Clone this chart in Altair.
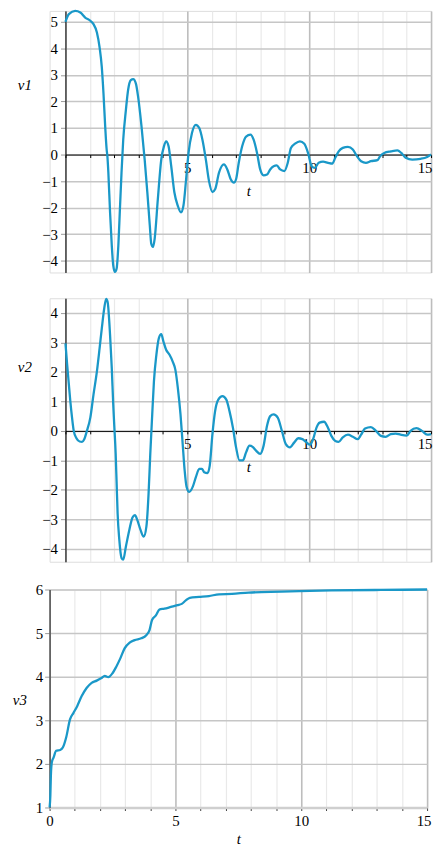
import altair as alt
import pandas as pd

FONT = "Liberation Serif"
LINE = "#1a98c8"

# ---- data ----
T1 = [0, 0.14, 0.4, 0.61, 0.81, 1.02, 1.15, 1.29, 1.4, 1.49,
      1.56, 1.63, 1.69, 1.72, 1.76, 1.83, 1.9, 1.96, 2.03, 2.1,
      2.17, 2.24, 2.3, 2.37, 2.48, 2.57, 2.68, 2.78, 2.89, 2.98,
      3.12, 3.25, 3.36, 3.46, 3.52, 3.59, 3.66, 3.79, 3.93, 4.04,
      4.13, 4.23, 4.34, 4.47, 4.61, 4.74, 4.84, 4.95, 5.05, 5.19,
      5.35, 5.49, 5.62, 5.76, 5.89, 6.03, 6.14, 6.3, 6.5, 6.64,
      6.78, 6.91, 7.0, 7.11, 7.25, 7.41, 7.59, 7.72, 7.86, 7.99,
      8.13, 8.27, 8.4, 8.54, 8.67, 8.81, 8.98, 9.12, 9.25, 9.42,
      9.62, 9.8, 9.96, 10.1, 10.23, 10.39, 10.57, 10.77, 10.95, 11.07,
      11.21, 11.38, 11.59, 11.79, 11.96, 12.13, 12.33, 12.53, 12.8, 12.91,
      13.08, 13.35, 13.62, 13.78, 13.96, 14.23, 14.57, 14.84, 15]
V1 = [5.0, 5.29, 5.41, 5.35, 5.16, 5.04, 4.91, 4.6, 4.04, 3.3,
      2.3, 1.06, 0.19, -0.06, -0.68, -2.18, -3.42, -4.17, -4.42, -4.29,
      -3.42, -1.93, -0.68, 0.56, 1.68, 2.43, 2.8, 2.84, 2.67, 2.18,
      1.06, -0.19, -1.43, -2.67, -3.36, -3.48, -3.17, -1.68, -0.19, 0.31,
      0.5, 0.31, -0.44, -1.43, -1.93, -2.18, -1.93, -0.93, 0.06, 0.81,
      1.12, 1.0, 0.56, -0.19, -1.0, -1.41, -1.31, -0.68, -0.37, -0.56,
      -0.93, -1.06, -0.93, -0.31, 0.31, 0.68, 0.75, 0.56, 0.06, -0.56,
      -0.78, -0.75, -0.56, -0.44, -0.41, -0.56, -0.62, -0.31, 0.25, 0.41,
      0.5, 0.41, 0.04, -0.44, -0.5, -0.31, -0.27, -0.31, -0.34, -0.12,
      0.12, 0.25, 0.29, 0.19, -0.06, -0.25, -0.31, -0.25, -0.21, -0.06,
      0.06, 0.12, 0.16, 0.06, -0.12, -0.19, -0.16, -0.09, 0.0]

T2 = [0, 0.07, 0.14, 0.2, 0.27, 0.34, 0.45, 0.58, 0.68, 0.77,
      0.88, 1.02, 1.15, 1.29, 1.4, 1.49, 1.59, 1.67, 1.73, 1.83,
      1.9, 1.96, 2.0, 2.06, 2.1, 2.14, 2.21, 2.3, 2.37, 2.48,
      2.62, 2.75, 2.85, 2.95, 3.08, 3.21, 3.32, 3.41, 3.48, 3.56,
      3.63, 3.73, 3.83, 3.93, 4.02, 4.13, 4.27, 4.4, 4.51, 4.61,
      4.72, 4.81, 4.89, 4.97, 5.08, 5.22, 5.35, 5.49, 5.6, 5.69,
      5.83, 5.92, 6.03, 6.14, 6.27, 6.44, 6.6, 6.73, 6.87, 7.0,
      7.14, 7.28, 7.41, 7.55, 7.68, 7.82, 7.99, 8.13, 8.27, 8.4,
      8.54, 8.71, 8.88, 9.04, 9.21, 9.39, 9.55, 9.72, 9.89, 10.03,
      10.16, 10.3, 10.43, 10.61, 10.77, 10.91, 11.07, 11.21, 11.38, 11.59,
      11.79, 11.99, 12.13, 12.29, 12.53, 12.74, 12.94, 13.14, 13.35, 13.55,
      13.75, 14.0, 14.16, 14.4, 14.63, 14.84, 15]
V2 = [2.97, 2.24, 1.57, 1.0, 0.45, 0.0, -0.25, -0.36, -0.37, -0.28,
      0.0, 0.45, 1.23, 2.02, 2.8, 3.47, 4.15, 4.48, 4.37, 3.25,
      2.13, 0.9, 0.22, -0.78, -1.79, -2.8, -3.7, -4.31, -4.37, -3.92,
      -3.36, -2.94, -2.86, -3.03, -3.36, -3.59, -3.25, -2.13, -0.78, 0.56,
      1.68, 2.58, 3.14, 3.28, 3.03, 2.75, 2.58, 2.35, 2.07, 1.46,
      0.56, -0.45, -1.34, -1.9, -2.07, -1.9, -1.57, -1.29, -1.29, -1.4,
      -1.43, -1.18, -0.11, 0.67, 1.06, 1.18, 1.06, 0.67, 0.11, -0.56,
      -1.0, -1.0, -0.73, -0.5, -0.54, -0.67, -0.78, -0.5, 0.17, 0.5,
      0.56, 0.45, 0.0, -0.45, -0.56, -0.39, -0.25, -0.28, -0.39, -0.47,
      -0.28, 0.11, 0.28, 0.31, 0.11, -0.17, -0.34, -0.37, -0.22, -0.13,
      -0.2, -0.28, -0.13, 0.08, 0.13, 0.0, -0.17, -0.2, -0.11, -0.09,
      -0.13, -0.16, 0.0, 0.09, 0.0, -0.13, -0.11]

T3 = [0, 0.03, 0.05, 0.09, 0.16, 0.26, 0.42, 0.53, 0.66, 0.81,
      0.95, 1.1, 1.27, 1.47, 1.67, 1.87, 2.06, 2.19, 2.33, 2.5,
      2.65, 2.81, 2.98, 3.18, 3.38, 3.64, 3.84, 3.97, 4.07, 4.23,
      4.36, 4.56, 4.82, 5.08, 5.25, 5.41, 5.57, 5.94, 6.33, 6.73,
      7.25, 7.91, 9.22, 11.19, 13.16, 15]
V3 = [1.0, 1.28, 1.73, 2.04, 2.15, 2.3, 2.32, 2.38, 2.61, 3.02,
      3.17, 3.33, 3.55, 3.74, 3.86, 3.91, 3.97, 4.02, 3.99, 4.08,
      4.23, 4.42, 4.65, 4.78, 4.84, 4.88, 4.95, 5.07, 5.3, 5.41,
      5.54, 5.56, 5.6, 5.64, 5.67, 5.75, 5.81, 5.83, 5.85, 5.89,
      5.9, 5.93, 5.95, 5.98, 5.99, 6.0]

X_TICKS = [0, 1, 2, 3, 4, 5, 6, 7, 8, 9, 10, 11, 12, 13, 14, 15]
Y1_TICKS = [-4, -3.5, -3, -2.5, -2, -1.5, -1, -0.5, 0, 0.5, 1, 1.5, 2, 2.5, 3, 3.5, 4, 4.5, 5]
Y2_TICKS = [-4, -3.5, -3, -2.5, -2, -1.5, -1, -0.5, 0, 0.5, 1, 1.5, 2, 2.5, 3, 3.5, 4, 4.5]
Y3_TICKS = [1, 1.5, 2, 2.5, 3, 3.5, 4, 4.5, 5, 5.5, 6]

INSET = 16          # panels 1-2 start their t axis this far right of panel 3's
W_OSC = 385         # panels 1-2 group width (t axis uses INSET..W_OSC)
W_V3 = 381


def cond(test, a, b):
    return {"condition": {"test": test, "value": a}, "value": b}


MAJ_X = "datum.value % 5 === 0"
MAJ_Y = "datum.value % 1 === 0"


def x_axis(offset, label_test, domain_color, domain_width, tick_color, flush_off, title_y):
    return alt.Axis(
        values=X_TICKS, format="d", offset=offset,
        grid=True,
        gridColor=cond(MAJ_X, "#bdbdbd", "#e9e9e9"),
        gridWidth=cond(MAJ_X, 1.6, 1.2),
        domain=True, domainColor=domain_color, domainWidth=domain_width,
        ticks=True, tickSize=3, tickColor=tick_color, tickWidth=1,
        labelExpr=f"({label_test}) ? datum.label : ''",
        labelFont=FONT, labelFontSize=15, labelColor="black",
        labelPadding=3, labelFlush=True, labelFlushOffset=flush_off,
        labelOverlap=False,
        title="t", titleFont=FONT, titleFontSize=15, titleFontStyle="italic",
        titleFontWeight="normal", titleColor="black",
        titleY=title_y, titleBaseline="alphabetic",
    )


def y_axis(values, title, tx, ty, offset, domain_color, domain_width, pad):
    return alt.Axis(
        values=values, format="d", offset=offset,
        grid=True,
        gridColor=cond(MAJ_Y, "#c6c6c6", "#ebebeb"),
        gridWidth=cond(MAJ_Y, 1.5, 1.2),
        domain=True, domainColor=domain_color, domainWidth=domain_width,
        ticks=True, tickSize=5, tickColor=cond(MAJ_Y, "#9a9a9a", "#333333"),
        tickWidth=1,
        labelExpr=f"({MAJ_Y}) ? datum.label : ''",
        labelFont=FONT, labelFontSize=15, labelColor="black",
        labelPadding=pad, labelFlush=False, labelOverlap=False,
        title=title, titleFont=FONT, titleFontSize=15, titleFontStyle="italic",
        titleFontWeight="normal", titleColor="black", titleAngle=0,
        titleX=tx, titleY=ty, titleAlign="center", titleBaseline="middle",
    )


def osc_panel(t, v, name, ydom, ticks, height, ty):
    zero_px = height * ydom[1] / (ydom[1] - ydom[0])
    df = pd.DataFrame({"t": t, name: v})
    return alt.Chart(df).mark_line(
        color=LINE, strokeWidth=2.3, interpolate="monotone"
    ).encode(
        x=alt.X("t:Q", scale=alt.Scale(domain=[0, 15], range=[INSET, W_OSC], nice=False, zero=False),
                axis=x_axis(-(height - zero_px), "datum.value % 5 === 0 && datum.value > 0",
                            "black", 1, "black", 1, 41)),
        y=alt.Y(f"{name}:Q", scale=alt.Scale(domain=ydom, nice=False, zero=False),
                axis=y_axis(ticks, name, -41.5, ty, -INSET, "black", 1, 3)),
    ).properties(width=W_OSC, height=height)


p1 = osc_panel(T1, V1, "v1", [-4.44, 5.41], Y1_TICKS, 264, 74)
p2 = osc_panel(T2, V2, "v2", [-4.44, 4.5], Y2_TICKS, 266, 69)

df3 = pd.DataFrame({"t": T3, "v3": V3})
p3 = alt.Chart(df3).mark_line(
    color=LINE, strokeWidth=2.3, interpolate="monotone"
).encode(
    x=alt.X("t:Q", scale=alt.Scale(domain=[0, 15], nice=False, zero=False),
            axis=x_axis(0, "datum.value % 5 === 0", "#cfcfcf", 2.5, "#333333", 4, 36)),
    y=alt.Y("v3:Q", scale=alt.Scale(domain=[1, 6], nice=False, zero=False),
            axis=y_axis(Y3_TICKS, "v3", -30.5, 111, 0, "#5a5a5a", 1.6, 2)),
).properties(width=W_V3, height=220)

chart = alt.vconcat(p1, p2, p3, spacing=16).properties(
    padding={"left": 3, "top": -7, "right": 0, "bottom": 0}
).configure_view(stroke=None).configure(
    background="white", font=FONT
).configure_axis(labelFont=FONT, titleFont=FONT)

chart.save("out.html", embed_options={"renderer": "svg", "actions": False})
